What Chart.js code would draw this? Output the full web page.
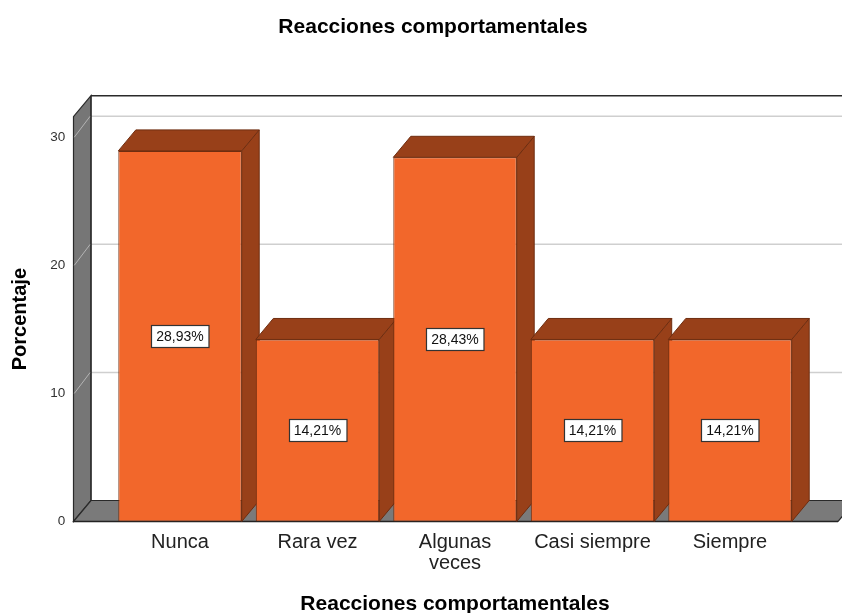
<!DOCTYPE html>
<html><head><meta charset="utf-8">
<script src="https://cdn.jsdelivr.net/npm/chart.js@4"></script>
<style>html,body{margin:0;padding:0;background:#fff}#wrap{width:842px;height:613px}</style>
</head><body><div id="wrap"><canvas id="c" width="842" height="613"></canvas></div>
<script>
const categories = ['Nunca', 'Rara vez', ['Algunas', 'veces'], 'Casi siempre', 'Siempre'];
const percentages = [28.93, 14.21, 28.43, 14.21, 14.21];
const yTickValues = [0, 10, 20, 30];
const chartTitle = 'Reacciones comportamentales';
const xAxisTitle = 'Reacciones comportamentales';
const yAxisTitle = 'Porcentaje';

const FONT = '"Liberation Sans", Arial, Helvetica, sans-serif';
const DX = 17.5, DY = -21;
const FRONT = '#F2672B', DARK = '#984019', EDGE = '#6e2d10';

function poly(ctx, pts, fill, stroke, lw) {
  ctx.beginPath();
  ctx.moveTo(pts[0][0], pts[0][1]);
  for (let i = 1; i < pts.length; i++) ctx.lineTo(pts[i][0], pts[i][1]);
  ctx.closePath();
  if (fill) { ctx.fillStyle = fill; ctx.fill(); }
  if (stroke) { ctx.strokeStyle = stroke; ctx.lineWidth = lw || 1; ctx.stroke(); }
}
function seg(ctx, x1, y1, x2, y2, color, lw) {
  ctx.beginPath(); ctx.moveTo(x1, y1); ctx.lineTo(x2, y2);
  ctx.strokeStyle = color; ctx.lineWidth = lw; ctx.stroke();
}

const box3d = {
  id: 'box3d',
  afterLayout(chart) {
    const t = chart.titleBlock;
    if (t) { t.left = 24; t.right = chart.width; t.width = t.right - t.left; }
  },
  beforeDatasetsDraw(chart) {
    const ctx = chart.ctx, xs = chart.scales.x, ys = chart.scales.y;
    const fl = xs.left - 37.75, fr = xs.right + 39.25;
    const top = ys.getPixelForValue(ys.max), base = ys.getPixelForValue(0);
    ctx.save();
    // back-wall gridlines
    ys.ticks.forEach(t => {
      if (t.value === 0) return;
      const y = ys.getPixelForValue(t.value);
      seg(ctx, fl + DX, y + DY, chart.width, y + DY, '#cfcfcf', 1.5);
    });
    // left wall
    poly(ctx, [[fl, top], [fl + DX, top + DY], [fl + DX, base + DY], [fl, base]], '#767676', '#2a2a2a', 1.2);
    ys.ticks.forEach(t => {
      if (t.value === 0) return;
      const y = ys.getPixelForValue(t.value);
      seg(ctx, fl + 0.8, y, fl + DX - 0.8, y + DY, '#b4b4b4', 1);
    });
    // floor
    poly(ctx, [[fl, base], [fl + DX, base + DY], [fr + DX, base + DY], [fr, base]], '#7a7a7a', '#2a2a2a', 1.2);
    seg(ctx, fl, base, fr, base, '#222', 1.6);
    // back wall outline
    seg(ctx, fl + DX, top + DY, chart.width, top + DY, '#2a2a2a', 1.5);
    seg(ctx, fl + DX, top + DY, fl + DX, base + DY, '#2a2a2a', 1.2);
    // bar side and top faces
    const meta = chart.getDatasetMeta(0);
    meta.data.forEach(el => {
      const l = el.x - el.width / 2, r = el.x + el.width / 2, y = el.y, b = el.base;
      poly(ctx, [[r, y], [r + DX, y + DY], [r + DX, b + DY], [r, b]], DARK, EDGE, 1);
      poly(ctx, [[l, y], [l + DX, y + DY], [r + DX, y + DY], [r, y]], DARK, EDGE, 1);
    });
    ctx.restore();
  },
  afterDatasetsDraw(chart) {
    const ctx = chart.ctx, ys = chart.scales.y;
    const meta = chart.getDatasetMeta(0);
    ctx.save();
    ctx.font = '14px ' + FONT;
    ctx.textAlign = 'center';
    ctx.textBaseline = 'middle';
    meta.data.forEach((el, i) => {
      const v = percentages[i];
      const txt = v.toFixed(2).replace('.', ',') + '%';
      const cy = ys.getPixelForValue(v / 2);
      const w = ctx.measureText(txt).width + 10, h = 22;
      const bx = Math.round(el.x - w / 2) + 0.5, by = Math.round(cy - h / 2) + 0.5;
      ctx.fillStyle = '#fff';
      ctx.fillRect(bx, by, w, h);
      ctx.strokeStyle = '#333'; ctx.lineWidth = 1.2;
      ctx.strokeRect(bx, by, w, h);
      ctx.fillStyle = '#111';
      ctx.fillText(txt, el.x, cy + 1);
    });
    ctx.restore();
  }
};

new Chart(document.getElementById('c'), {
  type: 'bar',
  data: {
    labels: categories,
    datasets: [{
      data: percentages,
      backgroundColor: FRONT,
      borderColor: EDGE,
      borderWidth: 1,
      borderSkipped: false,
      categoryPercentage: 1,
      barPercentage: 0.8975
    }]
  },
  options: {
    responsive: false,
    animation: false,
    layout: { padding: { left: 0, right: 43.25, top: 0, bottom: 0 } },
    plugins: {
      legend: { display: false },
      tooltip: { enabled: false },
      title: {
        display: true,
        text: chartTitle,
        color: '#000',
        font: { family: FONT, size: 21, weight: 'bold', lineHeight: 1.2 },
        padding: { top: 14.4, bottom: 77.1 }
      }
    },
    scales: {
      x: {
        offset: true,
        grid: { display: false, drawTicks: false },
        border: { display: false },
        ticks: {
          color: '#222', padding: 10, maxRotation: 0, autoSkip: false,
          font: { family: FONT, size: 20, lineHeight: 1.05 }
        },
        title: {
          display: true, text: xAxisTitle, color: '#000',
          font: { family: FONT, size: 21, weight: 'bold', lineHeight: 1 },
          padding: { top: 0, bottom: -2 }
        },
        afterFit(s) { s.height = 91.5; }
      },
      y: {
        min: 0, max: 31.6,
        grid: { display: false, drawTicks: false },
        border: { display: false },
        ticks: {
          stepSize: 10, color: '#333', padding: 46,
          font: { family: FONT, size: 13.5 }
        },
        afterBuildTicks(s) { s.ticks = yTickValues.map(v => ({ value: v })); },
        title: {
          display: true, text: yAxisTitle, color: '#000',
          font: { family: FONT, size: 20, weight: 'bold', lineHeight: 1.2 },
          padding: { top: 8, bottom: 0 }
        },
        afterFit(s) { s.width = 111.25; }
      }
    }
  },
  plugins: [box3d]
});
</script>
</body></html>
